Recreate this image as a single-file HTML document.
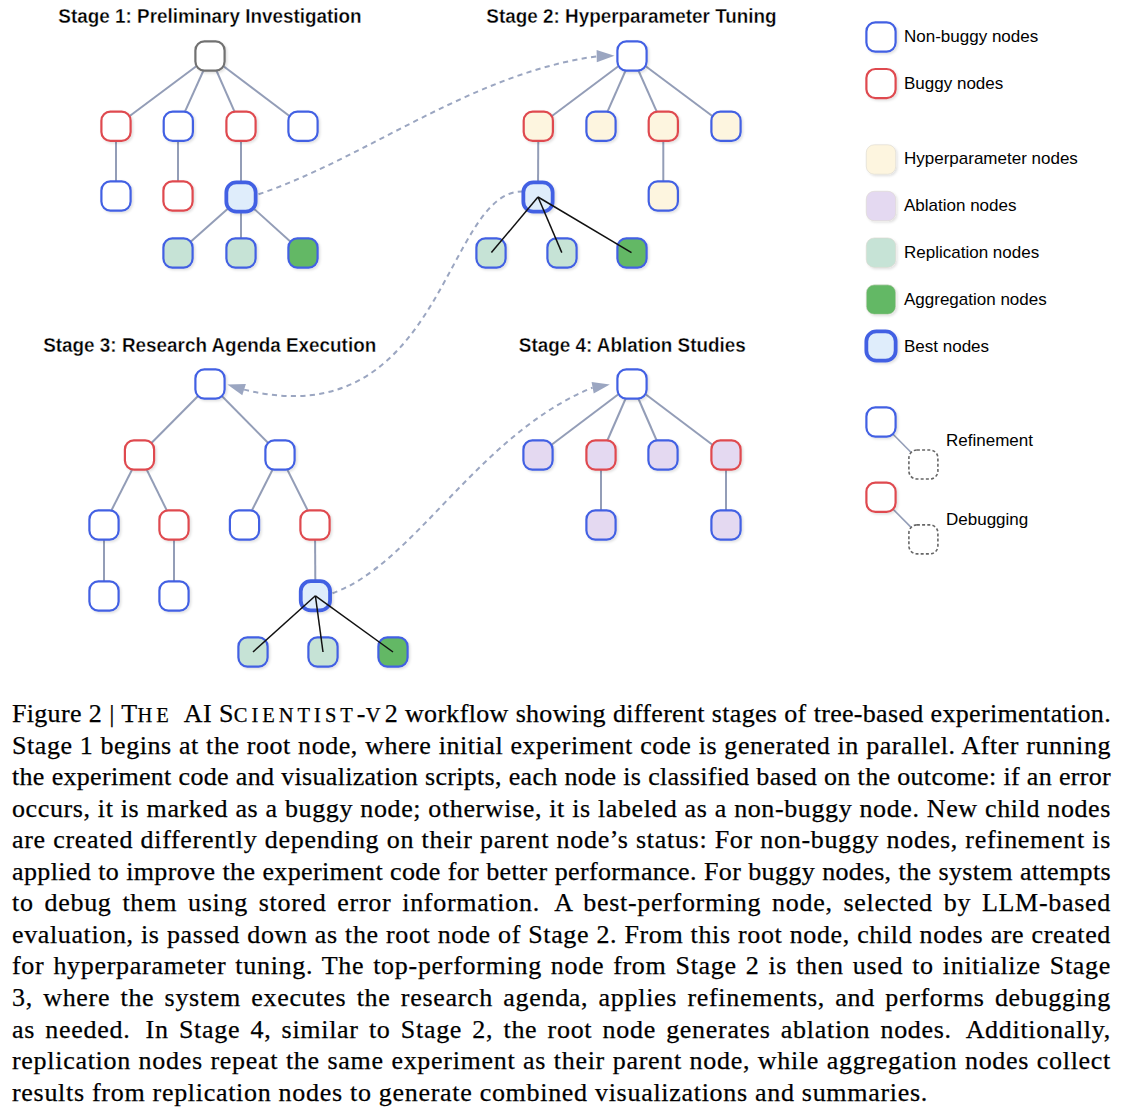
<!DOCTYPE html>
<html><head><meta charset="utf-8"><style>
html,body{margin:0;padding:0;background:#fff;}
body{width:1123px;height:1117px;position:relative;overflow:hidden;}
.ln{position:absolute;left:12px;width:1099px;font-family:"Liberation Serif",serif;font-size:26px;line-height:31px;height:31px;color:#000;white-space:nowrap;-webkit-text-stroke:0.25px #000;text-align:justify;text-align-last:justify;}
.ln.last{text-align:left;text-align-last:left;}
.sc{font-size:20.5px;letter-spacing:4.0px;}
.ss{margin-left:5px;}
</style></head><body>
<svg width="1123" height="690" viewBox="0 0 1123 690" style="position:absolute;left:0;top:0">
<defs><filter id="sh" x="-30%" y="-30%" width="170%" height="170%"><feDropShadow dx="1.5" dy="1.5" stdDeviation="1" flood-color="#000" flood-opacity="0.12"/></filter></defs>
<g><line x1="210" y1="56" x2="116" y2="126.3" stroke="#939db7" stroke-width="2.0"/><line x1="210" y1="56" x2="178.3" y2="126.3" stroke="#939db7" stroke-width="2.0"/><line x1="210" y1="56" x2="241" y2="126.3" stroke="#939db7" stroke-width="2.0"/><line x1="210" y1="56" x2="303" y2="126.3" stroke="#939db7" stroke-width="2.0"/><line x1="116" y1="126" x2="116" y2="196" stroke="#939db7" stroke-width="2.0"/><line x1="178" y1="126" x2="178" y2="196" stroke="#939db7" stroke-width="2.0"/><line x1="241" y1="126" x2="241" y2="197" stroke="#939db7" stroke-width="2.0"/><line x1="241" y1="197" x2="178" y2="253" stroke="#939db7" stroke-width="2.0"/><line x1="241" y1="197" x2="241" y2="253" stroke="#939db7" stroke-width="2.0"/><line x1="241" y1="197" x2="303" y2="253" stroke="#939db7" stroke-width="2.0"/><line x1="632" y1="56" x2="538.3" y2="126.3" stroke="#939db7" stroke-width="2.0"/><line x1="632" y1="56" x2="601" y2="126.3" stroke="#939db7" stroke-width="2.0"/><line x1="632" y1="56" x2="663.3" y2="126.3" stroke="#939db7" stroke-width="2.0"/><line x1="632" y1="56" x2="726" y2="126.3" stroke="#939db7" stroke-width="2.0"/><line x1="538.3" y1="126.3" x2="538" y2="197" stroke="#939db7" stroke-width="2.0"/><line x1="663.3" y1="126.3" x2="663.3" y2="196" stroke="#939db7" stroke-width="2.0"/><line x1="210" y1="384" x2="139.5" y2="455" stroke="#939db7" stroke-width="2.0"/><line x1="210" y1="384" x2="280" y2="455" stroke="#939db7" stroke-width="2.0"/><line x1="139.5" y1="455" x2="104" y2="525" stroke="#939db7" stroke-width="2.0"/><line x1="139.5" y1="455" x2="174" y2="525" stroke="#939db7" stroke-width="2.0"/><line x1="280" y1="455" x2="244.5" y2="525" stroke="#939db7" stroke-width="2.0"/><line x1="280" y1="455" x2="315" y2="525" stroke="#939db7" stroke-width="2.0"/><line x1="104" y1="525" x2="104" y2="596" stroke="#939db7" stroke-width="2.0"/><line x1="174" y1="525" x2="174" y2="596" stroke="#939db7" stroke-width="2.0"/><line x1="315" y1="525" x2="315.4" y2="595.8" stroke="#939db7" stroke-width="2.0"/><line x1="632" y1="384" x2="538" y2="455" stroke="#939db7" stroke-width="2.0"/><line x1="632" y1="384" x2="601" y2="455" stroke="#939db7" stroke-width="2.0"/><line x1="632" y1="384" x2="663" y2="455" stroke="#939db7" stroke-width="2.0"/><line x1="632" y1="384" x2="726" y2="455" stroke="#939db7" stroke-width="2.0"/><line x1="601" y1="455" x2="601" y2="525" stroke="#939db7" stroke-width="2.0"/><line x1="726" y1="455" x2="726" y2="525" stroke="#939db7" stroke-width="2.0"/><line x1="881" y1="422" x2="923" y2="464.5" stroke="#939db7" stroke-width="1.6"/><line x1="881" y1="497" x2="923" y2="539.4" stroke="#939db7" stroke-width="1.6"/></g>
<g><path d="M258.5,194.3 C367.3,157.5 472.1,73.2 597.0,56.3" fill="none" stroke="#9ba6c1" stroke-width="2" stroke-dasharray="5.2 4.3"/><path d="M523.0,191.6 C444.0,189.3 444.4,439.2 244.1,389.6" fill="none" stroke="#9ba6c1" stroke-width="2" stroke-dasharray="5.2 4.3"/><path d="M332.5,593.2 C414.3,564.4 477.8,434.3 592.6,387.6" fill="none" stroke="#9ba6c1" stroke-width="2" stroke-dasharray="5.2 4.3"/><polygon points="614.5,55.7 596.8,62.3 596.6,49.9" fill="#9ba6c1"/><polygon points="227.4,384.4 245.9,384.0 242.3,395.2" fill="#9ba6c1"/><polygon points="609.8,384.4 593.7,393.4 591.6,381.9" fill="#9ba6c1"/></g>
<g><rect x="195.40" y="41.40" width="29.2" height="29.2" rx="9" fill="#ffffff" stroke="#717171" stroke-width="2.2" filter="url(#sh)"/><rect x="101.40" y="111.70" width="29.2" height="29.2" rx="9" fill="#ffffff" stroke="#df4a4f" stroke-width="2.2" filter="url(#sh)"/><rect x="163.70" y="111.70" width="29.2" height="29.2" rx="9" fill="#ffffff" stroke="#4361e3" stroke-width="2.2" filter="url(#sh)"/><rect x="226.40" y="111.70" width="29.2" height="29.2" rx="9" fill="#ffffff" stroke="#df4a4f" stroke-width="2.2" filter="url(#sh)"/><rect x="288.40" y="111.70" width="29.2" height="29.2" rx="9" fill="#ffffff" stroke="#4361e3" stroke-width="2.2" filter="url(#sh)"/><rect x="101.40" y="181.40" width="29.2" height="29.2" rx="9" fill="#ffffff" stroke="#4361e3" stroke-width="2.2" filter="url(#sh)"/><rect x="163.40" y="181.40" width="29.2" height="29.2" rx="9" fill="#ffffff" stroke="#df4a4f" stroke-width="2.2" filter="url(#sh)"/><rect x="226.35" y="182.35" width="29.3" height="29.3" rx="10" fill="#dfedfb" stroke="#4361e3" stroke-width="3.8" filter="url(#sh)"/><rect x="163.40" y="238.40" width="29.2" height="29.2" rx="9" fill="#c6e3d6" stroke="#4361e3" stroke-width="2.2" filter="url(#sh)"/><rect x="226.40" y="238.40" width="29.2" height="29.2" rx="9" fill="#c6e3d6" stroke="#4361e3" stroke-width="2.2" filter="url(#sh)"/><rect x="288.40" y="238.40" width="29.2" height="29.2" rx="9" fill="#63b865" stroke="#4361e3" stroke-width="2.2" filter="url(#sh)"/><rect x="617.40" y="41.40" width="29.2" height="29.2" rx="9" fill="#ffffff" stroke="#4361e3" stroke-width="2.2" filter="url(#sh)"/><rect x="523.70" y="111.70" width="29.2" height="29.2" rx="9" fill="#fdf5df" stroke="#df4a4f" stroke-width="2.2" filter="url(#sh)"/><rect x="586.40" y="111.70" width="29.2" height="29.2" rx="9" fill="#fdf5df" stroke="#4361e3" stroke-width="2.2" filter="url(#sh)"/><rect x="648.70" y="111.70" width="29.2" height="29.2" rx="9" fill="#fdf5df" stroke="#df4a4f" stroke-width="2.2" filter="url(#sh)"/><rect x="711.40" y="111.70" width="29.2" height="29.2" rx="9" fill="#fdf5df" stroke="#4361e3" stroke-width="2.2" filter="url(#sh)"/><rect x="523.35" y="182.35" width="29.3" height="29.3" rx="10" fill="#dfedfb" stroke="#4361e3" stroke-width="3.8" filter="url(#sh)"/><rect x="648.70" y="181.40" width="29.2" height="29.2" rx="9" fill="#fdf5df" stroke="#4361e3" stroke-width="2.2" filter="url(#sh)"/><rect x="476.40" y="238.40" width="29.2" height="29.2" rx="9" fill="#c6e3d6" stroke="#4361e3" stroke-width="2.2" filter="url(#sh)"/><rect x="547.40" y="238.40" width="29.2" height="29.2" rx="9" fill="#c6e3d6" stroke="#4361e3" stroke-width="2.2" filter="url(#sh)"/><rect x="617.40" y="238.40" width="29.2" height="29.2" rx="9" fill="#63b865" stroke="#4361e3" stroke-width="2.2" filter="url(#sh)"/><rect x="195.40" y="369.40" width="29.2" height="29.2" rx="9" fill="#ffffff" stroke="#4361e3" stroke-width="2.2" filter="url(#sh)"/><rect x="124.90" y="440.40" width="29.2" height="29.2" rx="9" fill="#ffffff" stroke="#df4a4f" stroke-width="2.2" filter="url(#sh)"/><rect x="265.40" y="440.40" width="29.2" height="29.2" rx="9" fill="#ffffff" stroke="#4361e3" stroke-width="2.2" filter="url(#sh)"/><rect x="89.40" y="510.40" width="29.2" height="29.2" rx="9" fill="#ffffff" stroke="#4361e3" stroke-width="2.2" filter="url(#sh)"/><rect x="159.40" y="510.40" width="29.2" height="29.2" rx="9" fill="#ffffff" stroke="#df4a4f" stroke-width="2.2" filter="url(#sh)"/><rect x="229.90" y="510.40" width="29.2" height="29.2" rx="9" fill="#ffffff" stroke="#4361e3" stroke-width="2.2" filter="url(#sh)"/><rect x="300.40" y="510.40" width="29.2" height="29.2" rx="9" fill="#ffffff" stroke="#df4a4f" stroke-width="2.2" filter="url(#sh)"/><rect x="89.40" y="581.40" width="29.2" height="29.2" rx="9" fill="#ffffff" stroke="#4361e3" stroke-width="2.2" filter="url(#sh)"/><rect x="159.40" y="581.40" width="29.2" height="29.2" rx="9" fill="#ffffff" stroke="#4361e3" stroke-width="2.2" filter="url(#sh)"/><rect x="300.75" y="581.15" width="29.3" height="29.3" rx="10" fill="#dfedfb" stroke="#4361e3" stroke-width="3.8" filter="url(#sh)"/><rect x="238.40" y="637.40" width="29.2" height="29.2" rx="9" fill="#c6e3d6" stroke="#4361e3" stroke-width="2.2" filter="url(#sh)"/><rect x="308.40" y="637.40" width="29.2" height="29.2" rx="9" fill="#c6e3d6" stroke="#4361e3" stroke-width="2.2" filter="url(#sh)"/><rect x="378.40" y="637.40" width="29.2" height="29.2" rx="9" fill="#63b865" stroke="#4361e3" stroke-width="2.2" filter="url(#sh)"/><rect x="617.40" y="369.40" width="29.2" height="29.2" rx="9" fill="#ffffff" stroke="#4361e3" stroke-width="2.2" filter="url(#sh)"/><rect x="523.40" y="440.40" width="29.2" height="29.2" rx="9" fill="#e4d9f1" stroke="#4361e3" stroke-width="2.2" filter="url(#sh)"/><rect x="586.40" y="440.40" width="29.2" height="29.2" rx="9" fill="#e4d9f1" stroke="#df4a4f" stroke-width="2.2" filter="url(#sh)"/><rect x="648.40" y="440.40" width="29.2" height="29.2" rx="9" fill="#e4d9f1" stroke="#4361e3" stroke-width="2.2" filter="url(#sh)"/><rect x="711.40" y="440.40" width="29.2" height="29.2" rx="9" fill="#e4d9f1" stroke="#df4a4f" stroke-width="2.2" filter="url(#sh)"/><rect x="586.40" y="510.40" width="29.2" height="29.2" rx="9" fill="#e4d9f1" stroke="#4361e3" stroke-width="2.2" filter="url(#sh)"/><rect x="711.40" y="510.40" width="29.2" height="29.2" rx="9" fill="#e4d9f1" stroke="#4361e3" stroke-width="2.2" filter="url(#sh)"/><rect x="866.40" y="22.40" width="29.2" height="29.2" rx="9" fill="#ffffff" stroke="#4361e3" stroke-width="2.2" filter="url(#sh)"/><rect x="866.40" y="69.00" width="29.2" height="29.2" rx="9" fill="#ffffff" stroke="#df4a4f" stroke-width="2.2" filter="url(#sh)"/><rect x="866.25" y="144.75" width="29.5" height="29.5" rx="8" fill="#fdf5df" stroke="#dcd8d0" stroke-width="0.6" filter="url(#sh)"/><rect x="866.25" y="191.25" width="29.5" height="29.5" rx="8" fill="#e4d9f1" stroke="#dcd8d0" stroke-width="0.6" filter="url(#sh)"/><rect x="866.25" y="237.95" width="29.5" height="29.5" rx="8" fill="#c6e3d6" stroke="#dcd8d0" stroke-width="0.6" filter="url(#sh)"/><rect x="866.25" y="284.85" width="29.5" height="29.5" rx="8" fill="#63b865" stroke="#dcd8d0" stroke-width="0.6" filter="url(#sh)"/><rect x="866.35" y="331.35" width="29.3" height="29.3" rx="10" fill="#dfedfb" stroke="#4361e3" stroke-width="3.8" filter="url(#sh)"/><rect x="866.40" y="407.40" width="29.2" height="29.2" rx="9" fill="#ffffff" stroke="#4361e3" stroke-width="2.2" filter="url(#sh)"/><rect x="908.9" y="450.0" width="29" height="29" rx="8" fill="#fff" stroke="#666" stroke-width="1.6" stroke-dasharray="3 2.2"/><rect x="866.40" y="482.60" width="29.2" height="29.2" rx="9" fill="#ffffff" stroke="#df4a4f" stroke-width="2.2" filter="url(#sh)"/><rect x="908.9" y="524.9" width="29" height="29" rx="8" fill="#fff" stroke="#666" stroke-width="1.6" stroke-dasharray="3 2.2"/></g>
<g><line x1="538" y1="197" x2="491.4" y2="252.6" stroke="#111111" stroke-width="1.5"/><line x1="538" y1="197" x2="561.8" y2="252.6" stroke="#111111" stroke-width="1.5"/><line x1="538" y1="197" x2="631.5" y2="252.6" stroke="#111111" stroke-width="1.5"/><line x1="315.4" y1="595.8" x2="253" y2="652" stroke="#111111" stroke-width="1.5"/><line x1="315.4" y1="595.8" x2="323" y2="652" stroke="#111111" stroke-width="1.5"/><line x1="315.4" y1="595.8" x2="393" y2="652" stroke="#111111" stroke-width="1.5"/></g>
<g font-family="Liberation Sans, sans-serif" fill="#000"><text transform="translate(210,22.9) scale(1,1.045)" font-size="18.9" font-weight="bold" text-anchor="middle" stroke="#ffffff" stroke-width="0.3">Stage 1: Preliminary Investigation</text><text transform="translate(631.5,22.9) scale(1,1.045)" font-size="18.9" font-weight="bold" text-anchor="middle" stroke="#ffffff" stroke-width="0.3">Stage 2: Hyperparameter Tuning</text><text transform="translate(209.7,351.9) scale(1,1.045)" font-size="18.9" font-weight="bold" text-anchor="middle" stroke="#ffffff" stroke-width="0.3">Stage 3: Research Agenda Execution</text><text transform="translate(632.3,352) scale(1,1.045)" font-size="18.9" font-weight="bold" text-anchor="middle" stroke="#ffffff" stroke-width="0.3">Stage 4: Ablation Studies</text><text transform="translate(904,42) scale(1,1)" font-size="17" font-weight="normal" text-anchor="start">Non-buggy nodes</text><text transform="translate(904,88.9) scale(1,1)" font-size="17" font-weight="normal" text-anchor="start">Buggy nodes</text><text transform="translate(904,164) scale(1,1)" font-size="17" font-weight="normal" text-anchor="start">Hyperparameter nodes</text><text transform="translate(904,210.8) scale(1,1)" font-size="17" font-weight="normal" text-anchor="start">Ablation nodes</text><text transform="translate(904,257.9) scale(1,1)" font-size="17" font-weight="normal" text-anchor="start">Replication nodes</text><text transform="translate(904,304.8) scale(1,1)" font-size="17" font-weight="normal" text-anchor="start">Aggregation nodes</text><text transform="translate(904,351.6) scale(1,1)" font-size="17" font-weight="normal" text-anchor="start">Best nodes</text><text transform="translate(946,446) scale(1,1)" font-size="17" font-weight="normal" text-anchor="start">Refinement</text><text transform="translate(946,525) scale(1,1)" font-size="17" font-weight="normal" text-anchor="start">Debugging</text></g>
</svg>
<div class="ln" style="top:698.00px;letter-spacing:0.309px">Figure 2 | T<span class="sc">HE</span> <span style="margin-left:4px"></span>AI S<span class="sc">CIENTIST</span>-<span class="sc">V</span>2 workflow showing different stages of tree-based experimentation.</div>
<div class="ln" style="top:729.55px;letter-spacing:0.552px">Stage 1 begins at the root node, where initial experiment code is generated in parallel. After running</div>
<div class="ln" style="top:761.10px;letter-spacing:0.299px">the experiment code and visualization scripts, each node is classified based on the outcome: if an error</div>
<div class="ln" style="top:792.65px;letter-spacing:0.605px">occurs, it is marked as a buggy node; otherwise, it is labeled as a non-buggy node. New child nodes</div>
<div class="ln" style="top:824.20px;letter-spacing:0.690px">are created differently depending on their parent node’s status: For non-buggy nodes, refinement is</div>
<div class="ln" style="top:855.75px;letter-spacing:0.365px">applied to improve the experiment code for better performance. For buggy nodes, the system attempts</div>
<div class="ln" style="top:887.30px;letter-spacing:0.700px">to debug them using stored error information.<span class="ss"></span> A best-performing node, selected by LLM-based</div>
<div class="ln" style="top:918.85px;letter-spacing:0.627px">evaluation, is passed down as the root node of Stage 2. From this root node, child nodes are created</div>
<div class="ln" style="top:950.40px;letter-spacing:0.700px">for hyperparameter tuning. The top-performing node from Stage 2 is then used to initialize Stage</div>
<div class="ln" style="top:981.95px;letter-spacing:0.700px">3, where the system executes the research agenda, applies refinements, and performs debugging</div>
<div class="ln" style="top:1013.50px;letter-spacing:0.700px">as needed.<span class="ss"></span> In Stage 4, similar to Stage 2, the root node generates ablation nodes.<span class="ss"></span> Additionally,</div>
<div class="ln" style="top:1045.05px;letter-spacing:0.700px">replication nodes repeat the same experiment as their parent node, while aggregation nodes collect</div>
<div class="ln last" style="top:1076.60px;letter-spacing:0.701px">results from replication nodes to generate combined visualizations and summaries.</div>

</body></html>
